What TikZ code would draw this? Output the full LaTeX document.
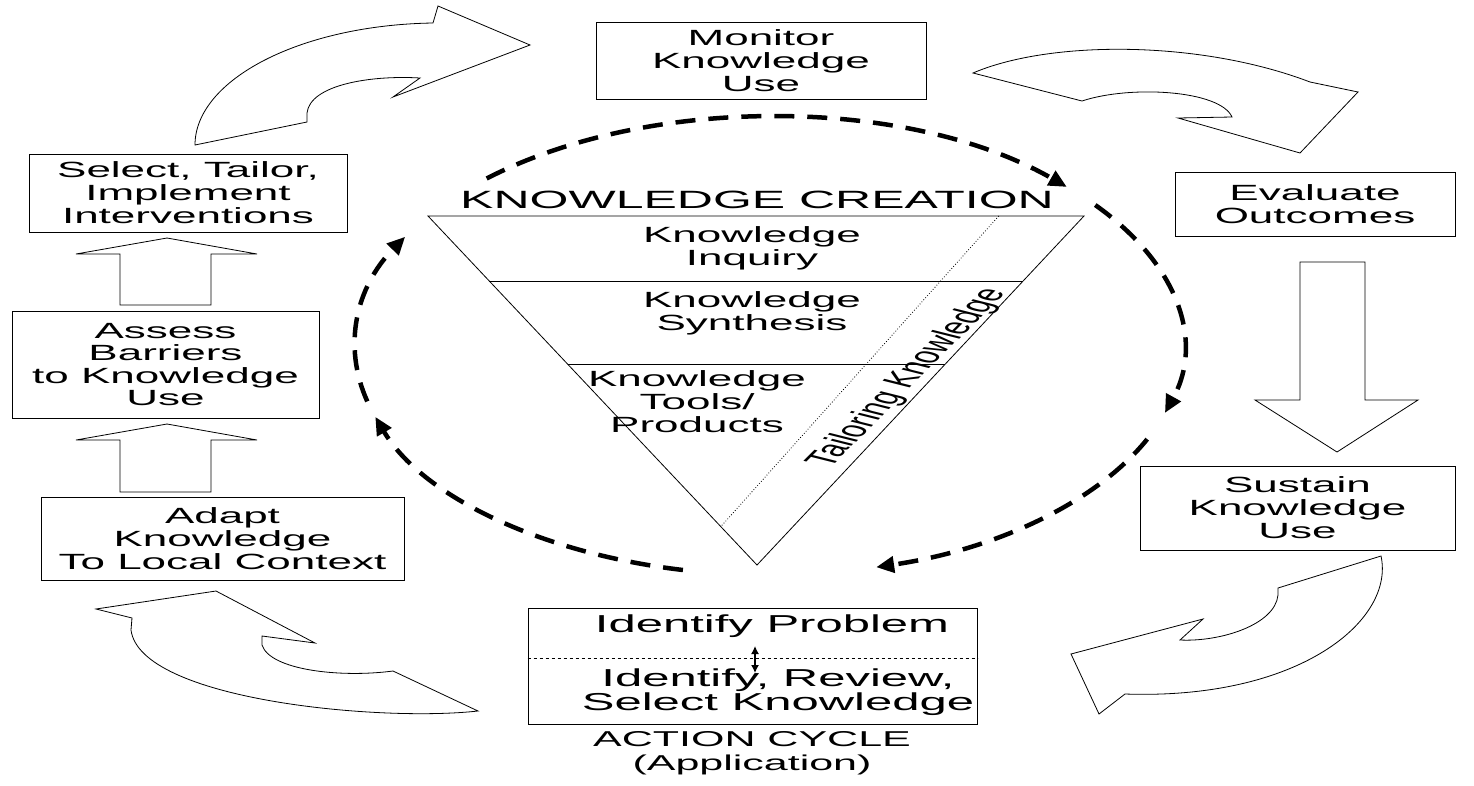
\documentclass[tikz,border=0pt]{standalone}
\usepackage{fontspec}
\setmainfont{Liberation Sans}[FakeStretch=2.0]
\newfontfamily\plainsans{Liberation Sans}
\usetikzlibrary{positioning,calc,arrows.meta}

\begin{document}
\begin{tikzpicture}[
	x=1pt,y=1pt,
	box/.style={draw,line width=1pt,align=center,inner sep=0pt,font=\fontsize{22}{23}\selectfont},
	txt/.style={align=center,inner sep=0pt,font=\fontsize{22}{23}\selectfont},
	block/.style={draw,line width=0.8pt,line join=miter},
	cyc/.style={line width=4.5pt,dash pattern=on 20pt off 13pt,-{Triangle[length=18pt,width=16pt]}}
	]
	\useasboundingbox (0,0) rectangle (1474,-785);

	% action cycle boxes
	\node[box,minimum width=330pt,minimum height=77pt] (monitor) at (761,-60.5) {Monitor\\Knowledge\\Use};
	\node[box,minimum width=280pt,minimum height=64pt] (evaluate) at (1315,-204) {Evaluate\\Outcomes};
	\node[box,minimum width=315pt,minimum height=84pt] (sustain) at (1297.5,-508) {Sustain\\Knowledge\\Use};
	\node[box,minimum width=318pt,minimum height=78pt] (select) at (188,-193) {Select, Tailor,\\Implement\\Interventions};
	\node[box,minimum width=307pt,minimum height=107pt,font=\fontsize{22}{22.4}\selectfont] (assess) at (165.5,-364.5) {Assess\\Barriers\\to Knowledge\\Use};
	\node[box,minimum width=363pt,minimum height=83pt] (adapt) at (222.5,-538.5) {Adapt\\Knowledge\\To Local Context};

	\node[box,minimum width=449pt,minimum height=116pt] (action) at (752.5,-666) {};
	\node[txt,font=\fontsize{24.5}{21}\selectfont] (problem) at (772,-626) {Identify Problem};
	\node[txt,font=\fontsize{24.5}{21}\selectfont] (review) at (778,-692) {Identify, Review,\\Select Knowledge};
	\draw[dashed,line width=0.6pt] ([yshift=8pt]action.west) -- ([yshift=8pt]action.east);
	\coordinate (updown) at (755,-646);
	\draw[{Latex[length=8pt,width=8pt]}-{Latex[length=8pt,width=8pt]},line width=1.3pt] (updown) -- ++(0,-27);
	\node[txt,font=\fontsize{21.5}{24}\selectfont] (actionlabel) at (752,-753) {ACTION CYCLE\\(Application)};

	% knowledge funnel
	\coordinate (tl) at (428,-216);
	\coordinate (tr) at (1084,-216);
	\coordinate (apex) at (757,-565);
	\draw[line width=0.8pt] (tl) -- (tr) -- (apex) -- cycle;
	\draw[line width=0.8pt] ($(tl)!0.186!(apex)$) -- ($(tr)!0.186!(apex)$);
	\draw[line width=0.8pt] ($(tl)!0.424!(apex)$) -- ($(tr)!0.424!(apex)$);
	\draw[dotted,line width=0.8pt] ($(tl)!0.87!(tr)$) -- ($(apex)!0.11!(tl)$);
	\node[txt,font=\fontsize{25}{26}\selectfont] (creation) at (757,-200) {KNOWLEDGE CREATION};
	\node[txt] (inquiry) at (752,-248) {Knowledge\\Inquiry};
	\node[txt] (synthesis) at (752,-313) {Knowledge\\Synthesis};
	\node[txt] (tools) at (697,-402) {Knowledge\\Tools/\\Products};
	\begin{scope}[shift={(908,-378)},xscale=2]
		\node[transform shape,rotate=63.4,inner sep=0pt,font=\plainsans\fontsize{22}{23}\selectfont] (tailoring) {Tailoring Knowledge};
	\end{scope}

	% dashed cycle round the funnel
	\coordinate (ctr) at (769,-346);
	\foreach \a/\b in {133/44, 38/-17, -24/-75, -102/-162, -166/-208.5}
		\draw[cyc] ([shift={(\a:414pt and 229pt)}]ctr) arc[start angle=\a, end angle=\b, x radius=414pt, y radius=229pt];

	% straight block arrows
	\draw[block] (120,-305) -- (120,-254) -- (76,-254) -- (167,-238) -- (257,-254) -- (211,-254) -- (211,-305) -- cycle;
	\draw[block] (120,-492) -- (120,-440) -- (76,-440) -- (167,-424) -- (257,-440) -- (211,-440) -- (211,-492) -- cycle;
	\draw[block] (1300,-262) -- (1300,-400) -- (1255,-400) -- (1337,-452) -- (1418,-400) -- (1365,-400) -- (1365,-262) -- cycle;

	% curved block arrows
	\draw[block] (195,-145) -- (307,-122) -- (307,-113) .. controls (310,-85) and (370,-75) .. (420,-78)
		-- (393,-97) -- (530,-45) -- (438,-6) -- (433,-23) .. controls (300,-25) and (195,-80) .. cycle;
	\draw[block] (973,-73) -- (1082,-101) .. controls (1130,-85) and (1220,-90) .. (1232,-117)
		-- (1178,-118) -- (1300,-153) -- (1358,-92) -- (1310,-82) .. controls (1200,-40) and (1050,-40) .. cycle;
	\draw[block] (1278,-588) -- (1381,-556) .. controls (1395,-620) and (1300,-700) .. (1125,-694)
		-- (1099,-714) -- (1071,-654) -- (1203,-619) -- (1180,-640) .. controls (1220,-642) and (1275,-625) .. (1278,-595) -- cycle;
	\draw[block] (96,-609) -- (216,-591) -- (315,-643) -- (262,-636) -- (262,-645) .. controls (270,-670) and (340,-678) .. (393,-671)
		-- (478,-711) .. controls (380,-722) and (140,-700) .. (131,-630) -- (132,-618) -- cycle;
\end{tikzpicture}
\end{document}
